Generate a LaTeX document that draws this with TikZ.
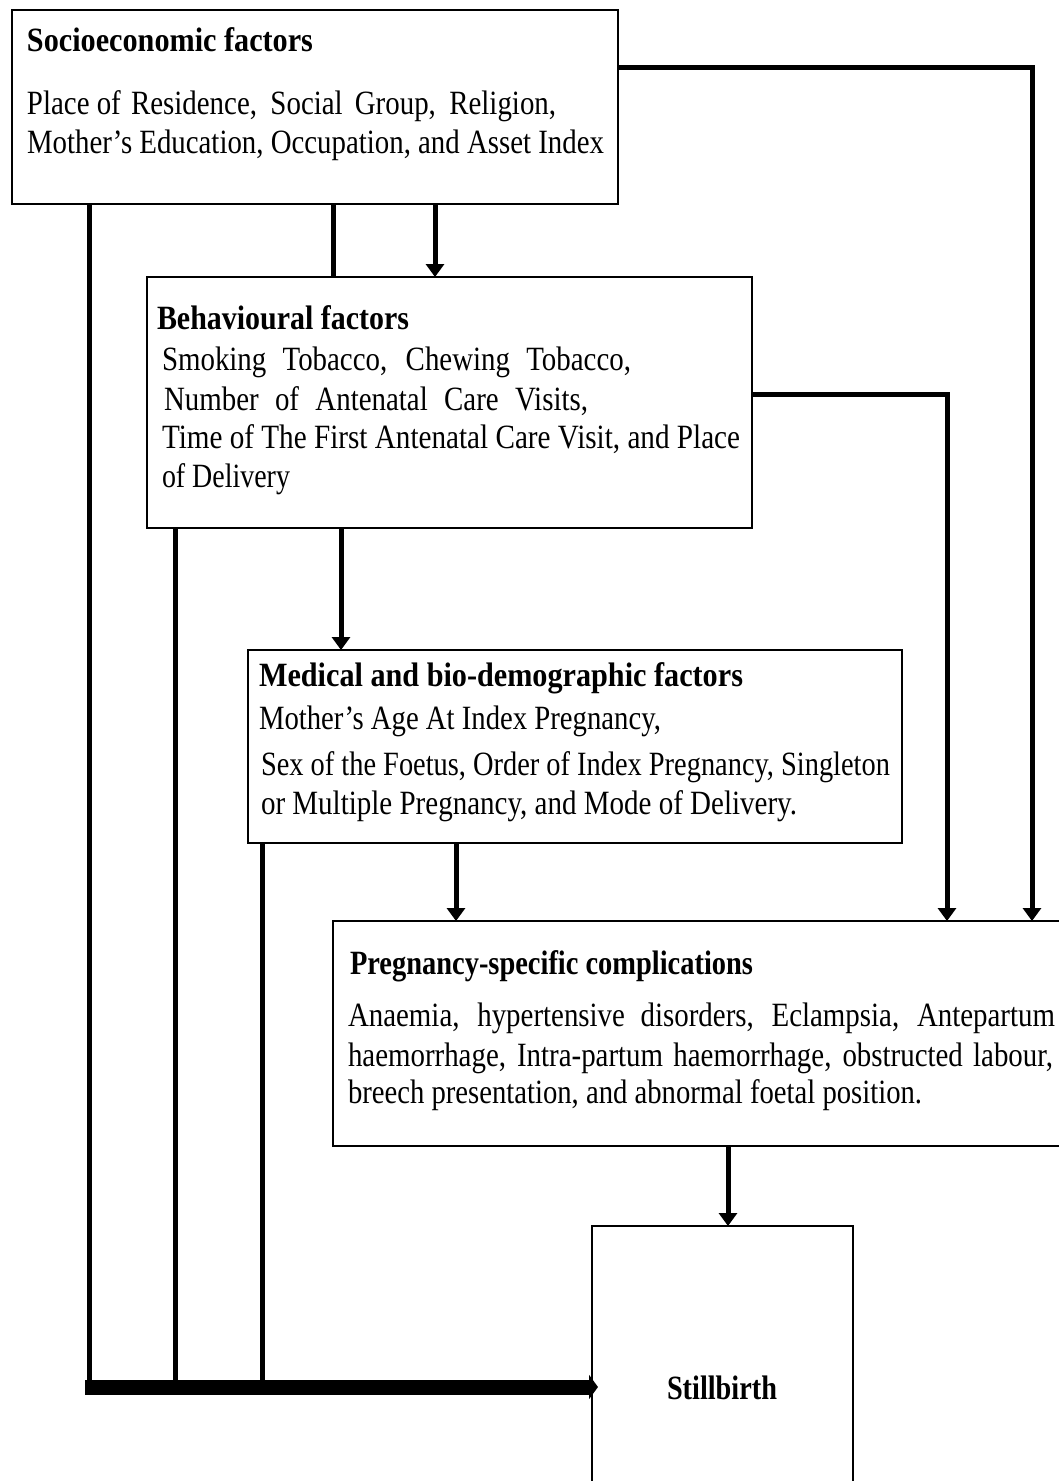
\documentclass[tikz,border=0pt]{standalone}
\usepackage{fontspec}
\setmainfont[FakeStretch=0.85]{Liberation Serif}
\usepackage{graphicx}
\usetikzlibrary{arrows.meta}
\newcommand{\sline}[2]{\makebox[#1][s]{#2}}
\newcommand{\rline}[2]{\resizebox{#1}{\height}{#2}}
\begin{document}
\begin{tikzpicture}[x=1pt,y=-1pt,
  box/.style={draw=black,line width=2pt,fill=none,inner sep=0pt,outer sep=0pt,anchor=north west},
  txt/.style={inner sep=0pt,outer sep=0pt,anchor=base west,font=\fontsize{34}{40}\selectfont},
  hd/.style={txt,font=\fontsize{34}{40}\selectfont\bfseries},
  conn/.style={line width=5pt},
  arr/.style={line width=5pt,-{Triangle[width=18pt,length=13pt]}},
  bigarr/.style={line width=15pt,-{Triangle[width=24pt,length=9pt]}}]
\useasboundingbox (0,0) rectangle (1059,1481);
\clip (0,0) rectangle (1059,1481);
\fill[white] (0,0) rectangle (1059,1481);

% boxes
\node[box,minimum width=606pt,minimum height=194pt] (socio) at (12,10) {};
\node[box,minimum width=605pt,minimum height=251pt] (behav) at (147,277) {};
\node[box,minimum width=654pt,minimum height=193pt] (med) at (248,650) {};
\node[box,minimum width=740pt,minimum height=225pt] (preg) at (333,921) {};
\node[box,minimum width=261pt,minimum height=300pt] (still) at (592,1226) {};

% texts: socioeconomic
\node[hd] (sochd) at (27,51) {\rline{286pt}{Socioeconomic factors}};
\node[txt] (soc1) at (27,114) {\makebox[539pt][l]{Place of\hspace{0.3em}\sline{425pt}{Residence, Social Group, Religion,}}};
\node[txt] (soc2) at (27,153) {\rline{577pt}{Mother’s Education, Occupation, and Asset Index}};

% behavioural
\node[hd] (behhd) at (157,329) {\rline{252pt}{Behavioural factors}};
\node[txt] (beh1) at (162,370) {\sline{469pt}{Smoking Tobacco, Chewing Tobacco,}};
\node[txt] (beh2) at (164,410) {\sline{424pt}{Number of Antenatal Care Visits,}};
\node[txt] (beh3) at (162,448) {\rline{578pt}{Time of The First Antenatal Care Visit, and Place}};
\node[txt] (beh4) at (162,487) {\rline{128pt}{of Delivery}};

% medical
\node[hd] (medhd) at (259,686) {\rline{484pt}{Medical and bio-demographic factors}};
\node[txt] (med1) at (259,729) {\rline{402pt}{Mother’s Age At Index Pregnancy,}};
\node[txt] (med2) at (261,775) {\rline{629pt}{Sex of the Foetus, Order of Index Pregnancy, Singleton}};
\node[txt] (med3) at (261,814) {\rline{536pt}{or Multiple Pregnancy, and Mode of Delivery.}};

% pregnancy
\node[hd] (preghd) at (350,974) {\rline{403pt}{Pregnancy-specific complications}};
\node[txt] (preg1) at (348,1026) {\sline{707pt}{Anaemia, hypertensive disorders, Eclampsia, Antepartum}};
\node[txt] (preg2) at (348,1066) {\sline{705pt}{haemorrhage, Intra-partum haemorrhage, obstructed labour,}};
\node[txt] (preg3) at (348,1103) {\rline{574pt}{breech presentation, and abnormal foetal position.}};

% stillbirth
\node[hd,anchor=base] (stillhd) at (722,1399) {\rline{110pt}{Stillbirth}};

% column coordinates
\coordinate (cS) at (1032,67);
\coordinate (cB) at (947,394);
\coordinate (c333) at (333,0);
\coordinate (c435) at (435,0);
\coordinate (c341) at (341,0);
\coordinate (c456) at (456,0);
\coordinate (c728) at (728,0);
\coordinate (c89) at (89,1380);
\coordinate (c175) at (175,1380);
\coordinate (c262) at (262,1380);
\coordinate (bar) at (85,1387);

% connectors
\draw[arr] (socio.east |- cS) -| (preg.north -| cS);
\draw[arr] (behav.east |- cB) -| (preg.north -| cB);
\draw[conn] (socio.south -| c333) -- (behav.north -| c333);
\draw[arr] (socio.south -| c435) -- (behav.north -| c435);
\draw[arr] (behav.south -| c341) -- (med.north -| c341);
\draw[arr] (med.south -| c456) -- (preg.north -| c456);
\draw[arr] (preg.south -| c728) -- (still.north -| c728);
\draw[conn] (socio.south -| c89) -- (c89);
\draw[conn] (behav.south -| c175) -- (c175);
\draw[conn] (med.south -| c262) -- (c262);
\draw[bigarr] (bar) -- ([xshift=6pt]still.west |- bar);
\end{tikzpicture}
\end{document}
